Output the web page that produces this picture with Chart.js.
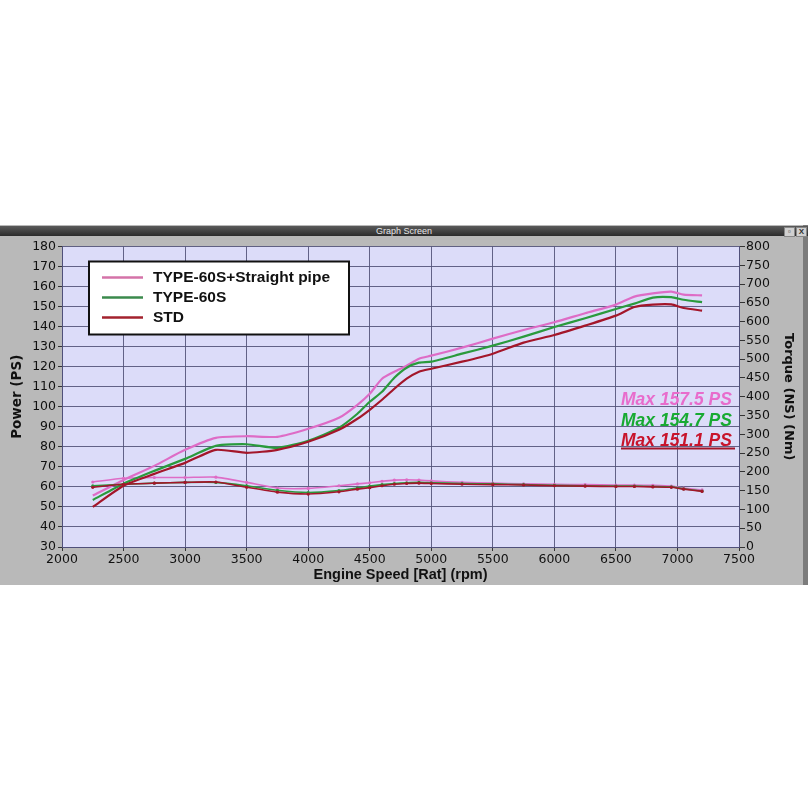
<!DOCTYPE html>
<html>
<head>
<meta charset="utf-8">
<script src="https://cdn.jsdelivr.net/npm/chart.js@4.4.1/dist/chart.umd.min.js"></script>
<style>
  body { margin: 0; background: #fff; width: 811px; height: 811px; position: relative; overflow: hidden; }
  #panel { position: absolute; left: 0; top: 225px; width: 803px; height: 360px; background: #b9b9b9; }
  #edge { position: absolute; left: 803px; top: 225px; width: 5px; height: 360px; background: #7c7c7c; }
  #titlebar { position: absolute; left: 0; top: 226px; width: 808px; height: 10px;
    background: linear-gradient(#5a5a5a, #2c2c2c); color: #e8e8e8;
    font: 9px "Liberation Sans Narrow", "Liberation Sans", sans-serif; text-align: center; line-height: 10px; }
  .btn { position: absolute; top: 227px; width: 9px; height: 8px; background: #d0d0d0; border: 1px solid #888;
    font: bold 8px "Liberation Sans", sans-serif; line-height: 8px; text-align: center; color: #333; }
  #wrap { position: absolute; left: 0; top: 237px; width: 800px; height: 348px; }
</style>
</head>
<body>
<div id="panel"></div>
<div id="edge"></div>
<div id="titlebar">Graph Screen</div>
<div class="btn" style="left:784px">&#9643;</div>
<div class="btn" style="left:796px">X</div>
<div id="wrap"><canvas id="dyno" width="800" height="348"></canvas></div>

<script>
// engine speed samples (rpm)
const rpm = [2250, 2500, 2750, 3000, 3250, 3500, 3750, 4000, 4250, 4400, 4500, 4600, 4700,
  4800, 4900, 5000, 5250, 5500, 5750, 6000, 6250, 6500, 6650, 6800, 6950, 7050, 7200];

// power (PS)
const powerPipe = [55.7, 63.5, 70.5, 78.5, 84.5, 85.3, 85.0, 89.0, 94.5, 101.0, 106.5, 114.0, 117.5,
  120.5, 124.0, 125.5, 129.5, 134.0, 138.3, 142.2, 146.7, 151.0, 155.0, 156.6, 157.5, 156.0, 155.6];
const power60S = [53.5, 61.6, 68.0, 74.0, 80.5, 81.3, 79.5, 83.0, 89.5, 96.5, 102.5, 107.5, 114.5,
  119.5, 122.0, 122.5, 126.5, 130.5, 135.0, 139.8, 144.2, 148.8, 151.5, 154.5, 154.7, 153.4, 152.2];
const powerStd = [50.0, 60.6, 66.5, 72.0, 78.5, 77.0, 78.5, 82.5, 88.5, 94.0, 98.5, 103.5, 109.0,
  114.0, 117.5, 119.0, 122.5, 126.5, 132.0, 135.8, 140.5, 145.5, 149.8, 151.0, 151.1, 149.3, 148.0];

// torque (Nm)
const torquePipe = [173, 183, 185, 185, 186, 172, 157, 156, 163, 168, 171, 175, 178,
  179, 178, 176, 172, 170, 168, 167, 166, 165, 165, 164, 162, 157, 152];
const torque60S = [163, 167, 170, 172, 172, 163, 151, 145, 150, 157, 162, 166, 169,
  171, 172, 171, 169, 168, 166, 164, 163, 162, 162, 161, 160, 155, 149];
const torqueStd = [159, 167, 170, 172, 173, 159, 146, 141, 147, 154, 158, 163, 167,
  169, 170, 169, 167, 166, 165, 163, 162, 161, 161, 160, 159, 154, 148];

const seriesNames = ["TYPE-60S+Straight pipe", "TYPE-60S", "STD"];
const lineColors = ["#de6cc6", "#2a9a3c", "#a3162a"];
const legendColors = ["#d473a8", "#3b8a4c", "#a3222e"];
const maxColors = ["#e86ccc", "#18aa32", "#c8142c"];

// tick ranges
const rpmMin = 2000, rpmMax = 7500, rpmStep = 500;
const psMin = 30, psMax = 180, psStep = 10;
const nmMin = 0, nmMax = 800, nmStep = 50;

const pts = arr => arr.map((v, i) => ({ x: rpm[i], y: v }));
const powers = [powerPipe, power60S, powerStd];
const torques = [torquePipe, torque60S, torqueStd];

const datasets = [];
powers.forEach((p, i) => datasets.push({
  label: seriesNames[i], data: pts(p), yAxisID: "y",
  borderColor: lineColors[i], borderWidth: 2.2, pointRadius: 0, tension: 0.2, order: 2 - i
}));
torques.forEach((t, i) => datasets.push({
  label: seriesNames[i] + " torque", data: pts(t), yAxisID: "y2",
  borderColor: lineColors[i], backgroundColor: lineColors[i], borderWidth: 1.6,
  pointRadius: 1.6, pointBorderWidth: 0, tension: 0.2, order: 2 - i
}));

const gridCol = "rgba(84,84,122,0.9)";
const tickFont = { family: "DejaVu Sans", size: 12.5 };

const plotBg = {
  id: "plotBg",
  beforeDraw(chart) {
    const { ctx, chartArea: a } = chart;
    ctx.save();
    ctx.fillStyle = "#dcdcf9";
    ctx.fillRect(a.left, a.top, a.right - a.left, a.bottom - a.top);
    ctx.restore();
  }
};

const overlay = {
  id: "overlay",
  afterDraw(chart) {
    const { ctx, chartArea: a } = chart;
    ctx.save();
    // legend box
    const bx = a.left + 27, by = a.top + 15, bw = 260, bh = 73;
    ctx.fillStyle = "#fff";
    ctx.fillRect(bx, by, bw, bh);
    ctx.strokeStyle = "#111";
    ctx.lineWidth = 2;
    ctx.strokeRect(bx, by, bw, bh);
    ctx.font = "bold 15.5px 'Liberation Sans', Arial, sans-serif";
    ctx.textBaseline = "middle";
    seriesNames.forEach((name, i) => {
      const y = by + 16 + i * 20;
      ctx.strokeStyle = legendColors[i];
      ctx.lineWidth = 2.5;
      ctx.beginPath();
      ctx.moveTo(bx + 13, y);
      ctx.lineTo(bx + 54, y);
      ctx.stroke();
      ctx.fillStyle = "#111";
      ctx.fillText(name, bx + 64, y);
    });
    // max power labels
    ctx.font = "bold italic 17.5px 'Liberation Sans', Arial, sans-serif";
    const mx = 621;
    powers.forEach((p, i) => {
      const y = a.top + 154 + i * 20.5;
      ctx.fillStyle = maxColors[i];
      ctx.fillText("Max " + Math.max(...p).toFixed(1) + " PS", mx, y);
    });
    ctx.strokeStyle = "#a3162a";
    ctx.lineWidth = 2;
    ctx.beginPath();
    ctx.moveTo(mx, a.top + 202);
    ctx.lineTo(a.right - 4, a.top + 202);
    ctx.stroke();
    ctx.restore();
  }
};

new Chart(document.getElementById("dyno"), {
  type: "line",
  data: { datasets },
  options: {
    responsive: false,
    animation: false,
    layout: { padding: { top: 6, left: 0, right: 0, bottom: 0 } },
    plugins: { legend: { display: false }, tooltip: { enabled: false } },
    scales: {
      x: {
        type: "linear", min: rpmMin, max: rpmMax,
        ticks: { stepSize: rpmStep, color: "#111", font: tickFont, padding: 1, maxRotation: 0,
          callback: v => String(v) },
        grid: { color: gridCol, tickColor: "#333", tickLength: 4 },
        border: { color: "#50507a" },
        title: { display: true, text: "Engine Speed [Rat] (rpm)", color: "#111",
          font: { family: "Liberation Sans", size: 14.5, weight: "bold" }, padding: { top: 0, bottom: 1 } },
        afterFit: s => { s.height = 38; }
      },
      y: {
        position: "left", min: psMin, max: psMax,
        ticks: { stepSize: psStep, color: "#111", font: tickFont, padding: 2 },
        grid: { color: gridCol, tickColor: "#333", tickLength: 4 },
        border: { color: "#50507a" },
        title: { display: true, text: "Power (PS)", color: "#111",
          font: { family: "DejaVu Sans", size: 13.5, weight: "bold" }, padding: { top: 9, bottom: 0 } },
        afterFit: s => { s.width = 62; }
      },
      y2: {
        position: "right", min: nmMin, max: nmMax,
        ticks: { stepSize: nmStep, color: "#111", font: tickFont, padding: 1 },
        grid: { drawOnChartArea: false, tickColor: "#333", tickLength: 6 },
        border: { color: "#50507a" },
        title: { display: true, text: "Torque (NS) (Nm)", color: "#111",
          font: { family: "DejaVu Sans", size: 13, weight: "bold" }, padding: { top: 4, bottom: 0 } },
        afterFit: s => { s.width = 61; }
      }
    }
  },
  plugins: [plotBg, overlay]
});
</script>
</body>
</html>
